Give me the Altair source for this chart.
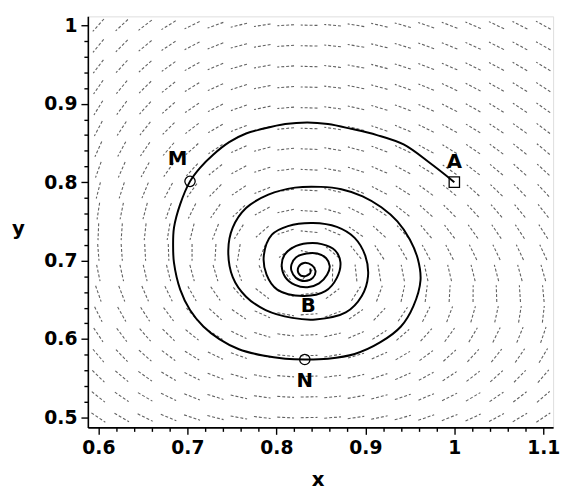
import math
import altair as alt
import pandas as pd

# ---------------- data ----------------
X_DOMAIN = [0.5882, 1.111]
Y_DOMAIN = [0.4874, 1.0113]

X_TICKS = [0.6, 0.62, 0.64, 0.66, 0.68, 0.7, 0.72, 0.74, 0.76, 0.78, 0.8, 0.82, 0.84,
           0.86, 0.88, 0.9, 0.92, 0.94, 0.96, 0.98, 1.0, 1.02, 1.04, 1.06, 1.08, 1.1]
Y_TICKS = [0.5, 0.52, 0.54, 0.56, 0.58, 0.6, 0.62, 0.64, 0.66, 0.68, 0.7, 0.72, 0.74,
           0.76, 0.78, 0.8, 0.82, 0.84, 0.86, 0.88, 0.9, 0.92, 0.94, 0.96, 0.98, 1.0]

# trajectory starting at A and spiralling into the equilibrium
SPIRAL_X = [1.0, 0.973, 0.943, 0.913, 0.884, 0.858, 0.835, 0.810, 0.785, 0.766,
            0.747, 0.729, 0.714, 0.703, 0.692, 0.685, 0.684, 0.685, 0.692, 0.703,
            0.718, 0.736, 0.758, 0.785, 0.810, 0.832, 0.858, 0.888, 0.917, 0.940,
            0.954, 0.962, 0.959, 0.950, 0.936, 0.918, 0.897, 0.873, 0.850, 0.821,
            0.791, 0.766, 0.751, 0.746, 0.751, 0.766, 0.788, 0.818, 0.844, 0.878,
            0.896, 0.903, 0.900, 0.888, 0.868, 0.841, 0.813, 0.795, 0.786, 0.789,
            0.801, 0.830, 0.855, 0.868, 0.872, 0.866, 0.851, 0.835, 0.819, 0.809,
            0.806, 0.810, 0.821, 0.835, 0.848, 0.857, 0.860, 0.856, 0.846, 0.834,
            0.822, 0.817, 0.817, 0.822, 0.832, 0.841, 0.844, 0.840, 0.831, 0.825,
            0.825, 0.831, 0.838, 0.838]
SPIRAL_Y = [0.800, 0.824, 0.848, 0.860, 0.868, 0.874, 0.876, 0.874, 0.868, 0.862,
            0.851, 0.835, 0.818, 0.801, 0.772, 0.742, 0.719, 0.697, 0.663, 0.637,
            0.616, 0.600, 0.587, 0.579, 0.575, 0.574, 0.575, 0.581, 0.596, 0.616,
            0.642, 0.675, 0.702, 0.727, 0.750, 0.768, 0.782, 0.791, 0.794, 0.793,
            0.784, 0.767, 0.742, 0.713, 0.679, 0.654, 0.637, 0.627, 0.625, 0.634,
            0.655, 0.680, 0.706, 0.729, 0.743, 0.748, 0.744, 0.733, 0.707, 0.682,
            0.663, 0.655, 0.661, 0.678, 0.698, 0.713, 0.721, 0.722, 0.717, 0.707,
            0.694, 0.679, 0.669, 0.666, 0.671, 0.682, 0.693, 0.703, 0.709, 0.709,
            0.704, 0.695, 0.687, 0.678, 0.674, 0.678, 0.687, 0.694, 0.697, 0.692,
            0.684, 0.680, 0.684, 0.690]
assert len(SPIRAL_X) == len(SPIRAL_Y)

# marked points
POINT_NAMES = ["A", "M", "N"]
POINT_X = [1.0, 0.703, 0.832]
POINT_Y = [0.8, 0.801, 0.574]
POINT_SHAPE = ["square", "circle", "circle"]

# labels
LABEL_TEXT = ["A", "M", "N", "B"]
LABEL_X = [1.0, 0.689, 0.832, 0.836]
LABEL_Y = [0.826, 0.829, 0.547, 0.642]

# direction-field grid (20 x 20) and equilibrium
GRID_X = [0.6, 0.6263, 0.6526, 0.6789, 0.7053, 0.7316, 0.7579, 0.7842, 0.8105, 0.8368,
          0.8632, 0.8895, 0.9158, 0.9421, 0.9684, 0.9947, 1.0211, 1.0474, 1.0737, 1.1]
GRID_Y = [0.5, 0.5263, 0.5526, 0.5789, 0.6053, 0.6316, 0.6579, 0.6842, 0.7105, 0.7368,
          0.7632, 0.7895, 0.8158, 0.8421, 0.8684, 0.8947, 0.9211, 0.9474, 0.9737, 1.0]
EQ_X, EQ_Y = 0.83, 0.69
DAMP, RATE = 0.164, 0.9

# ---------------- build tables ----------------
W, H = 472, 417
PX = W / (X_DOMAIN[1] - X_DOMAIN[0])
PY = H / (Y_DOMAIN[1] - Y_DOMAIN[0])
HALF = 8.5  # half length of a field dash in pixels

rows = []
for gx in GRID_X:
    for gy in GRID_Y:
        u = gx * (EQ_Y + DAMP * EQ_X - DAMP * gx - gy)
        v = RATE * gy * (gx - EQ_X)
        pu, pv = u * PX, v * PY
        n = math.hypot(pu, pv) or 1.0
        dx = HALF * pu / n / PX
        dy = HALF * pv / n / PY
        rows.append({"x": gx - dx, "y": gy - dy, "x2": gx + dx, "y2": gy + dy})
field_df = pd.DataFrame(rows)

spiral_df = pd.DataFrame({"x": SPIRAL_X, "y": SPIRAL_Y, "i": list(range(len(SPIRAL_X)))})
pts_df = pd.DataFrame({"name": POINT_NAMES, "x": POINT_X, "y": POINT_Y, "shape": POINT_SHAPE})
lab_df = pd.DataFrame({"t": LABEL_TEXT, "x": LABEL_X, "y": LABEL_Y})

MAJOR_TEST = "abs(datum.value*10 - round(datum.value*10)) < 0.001"
FONT = "DejaVu Sans"

x_axis = alt.Axis(
    values=X_TICKS, title="x", grid=False,
    labelExpr=f"({MAJOR_TEST}) ? format(datum.value, '.1~f') : ''",
    tickSize={"condition": {"test": MAJOR_TEST, "value": 7}, "value": 4},
    labelFont=FONT, labelFontSize=19, labelFontWeight="bold", labelColor="black",
    labelPadding=4, labelFlush=False, labelOverlap=False,
    titleFont=FONT, titleFontSize=20, titleFontWeight="bold", titleColor="black",
    titleBaseline="alphabetic", titleY=59, titleX=233,
    domainColor="black", domainWidth=1.6, tickColor="black", tickWidth=1.4,
)
y_axis = alt.Axis(
    values=Y_TICKS, title="y", grid=False,
    labelExpr=f"({MAJOR_TEST}) ? format(datum.value, '.1~f') : ''",
    tickSize={"condition": {"test": MAJOR_TEST, "value": 7}, "value": 4},
    labelFont=FONT, labelFontSize=19, labelFontWeight="bold", labelColor="black",
    labelPadding=4, labelFlush=False, labelOverlap=False,
    titleFont=FONT, titleFontSize=20, titleFontWeight="bold", titleColor="black",
    titleAngle=0, titleAlign="center", titleBaseline="middle", titleX=-71, titleY=215,
    domainColor="black", domainWidth=1.6, tickColor="black", tickWidth=1.4,
)
xs = alt.Scale(domain=X_DOMAIN, nice=False, zero=False)
ys = alt.Scale(domain=Y_DOMAIN, nice=False, zero=False)

field = alt.Chart(field_df).mark_rule(
    color="#444444", strokeWidth=1.1, strokeDash=[3, 2], opacity=0.85
).encode(
    x=alt.X("x:Q", scale=xs, axis=x_axis),
    y=alt.Y("y:Q", scale=ys, axis=y_axis),
    x2="x2:Q", y2="y2:Q",
)

spiral = alt.Chart(spiral_df).mark_line(
    color="black", strokeWidth=2, interpolate="catmull-rom"
).encode(
    x=alt.X("x:Q", scale=xs, axis=x_axis),
    y=alt.Y("y:Q", scale=ys, axis=y_axis),
    order="i:Q",
)

points = alt.Chart(pts_df).mark_point(
    filled=False, color="black", strokeWidth=1.3, size=110, opacity=1
).encode(
    x=alt.X("x:Q", scale=xs, axis=x_axis),
    y=alt.Y("y:Q", scale=ys, axis=y_axis),
    shape=alt.Shape("shape:N", scale=None),
)

labels = alt.Chart(lab_df).mark_text(
    font=FONT, fontSize=20, fontWeight="bold", color="black",
    align="center", baseline="middle"
).encode(
    x=alt.X("x:Q", scale=xs, axis=x_axis),
    y=alt.Y("y:Q", scale=ys, axis=y_axis),
    text="t:N",
)

chart = alt.layer(field, spiral, points, labels).properties(
    width=W, height=H,
    autosize=alt.AutoSizeParams(type="none"),
    padding={"left": 81, "top": 5, "right": 8, "bottom": 60},
).configure_view(stroke=None).configure(background="white")

chart.save("out.html", embed_options={"renderer": "svg", "actions": False})
